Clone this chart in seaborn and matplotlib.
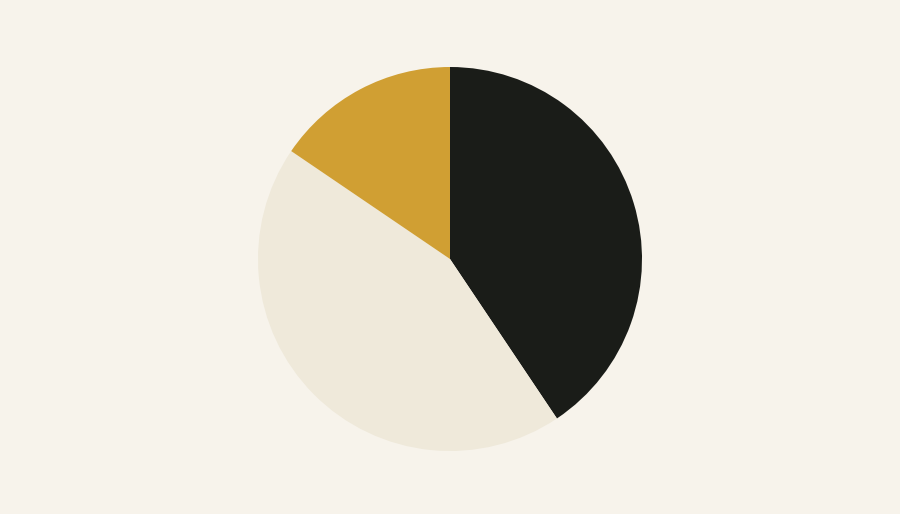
import matplotlib
matplotlib.use("Agg")
import matplotlib.pyplot as plt
import seaborn as sns

categories = ["Black", "Cream", "Gold"]
values = [40.6, 43.9, 15.5]
colors = ["#1a1c18", "#efe9da", "#d09f33"]
bg = "#f7f3eb"

sns.set_theme(style="white")
fig = plt.figure(figsize=(9, 5.14), dpi=100, facecolor=bg)
ax = fig.add_axes([0, 0, 1, 1])
ax.set_facecolor(bg)
ax.pie(values, colors=colors, startangle=90, counterclock=False,
       radius=1.0, center=(0, 0), wedgeprops=dict(linewidth=0))
ax.set_xlim(-450 / 192, 450 / 192)
ax.set_ylim(-255 / 192, 259 / 192)
ax.set_aspect("equal", adjustable="box")
ax.axis("off")
fig.savefig("out.png", dpi=100, facecolor=bg)
